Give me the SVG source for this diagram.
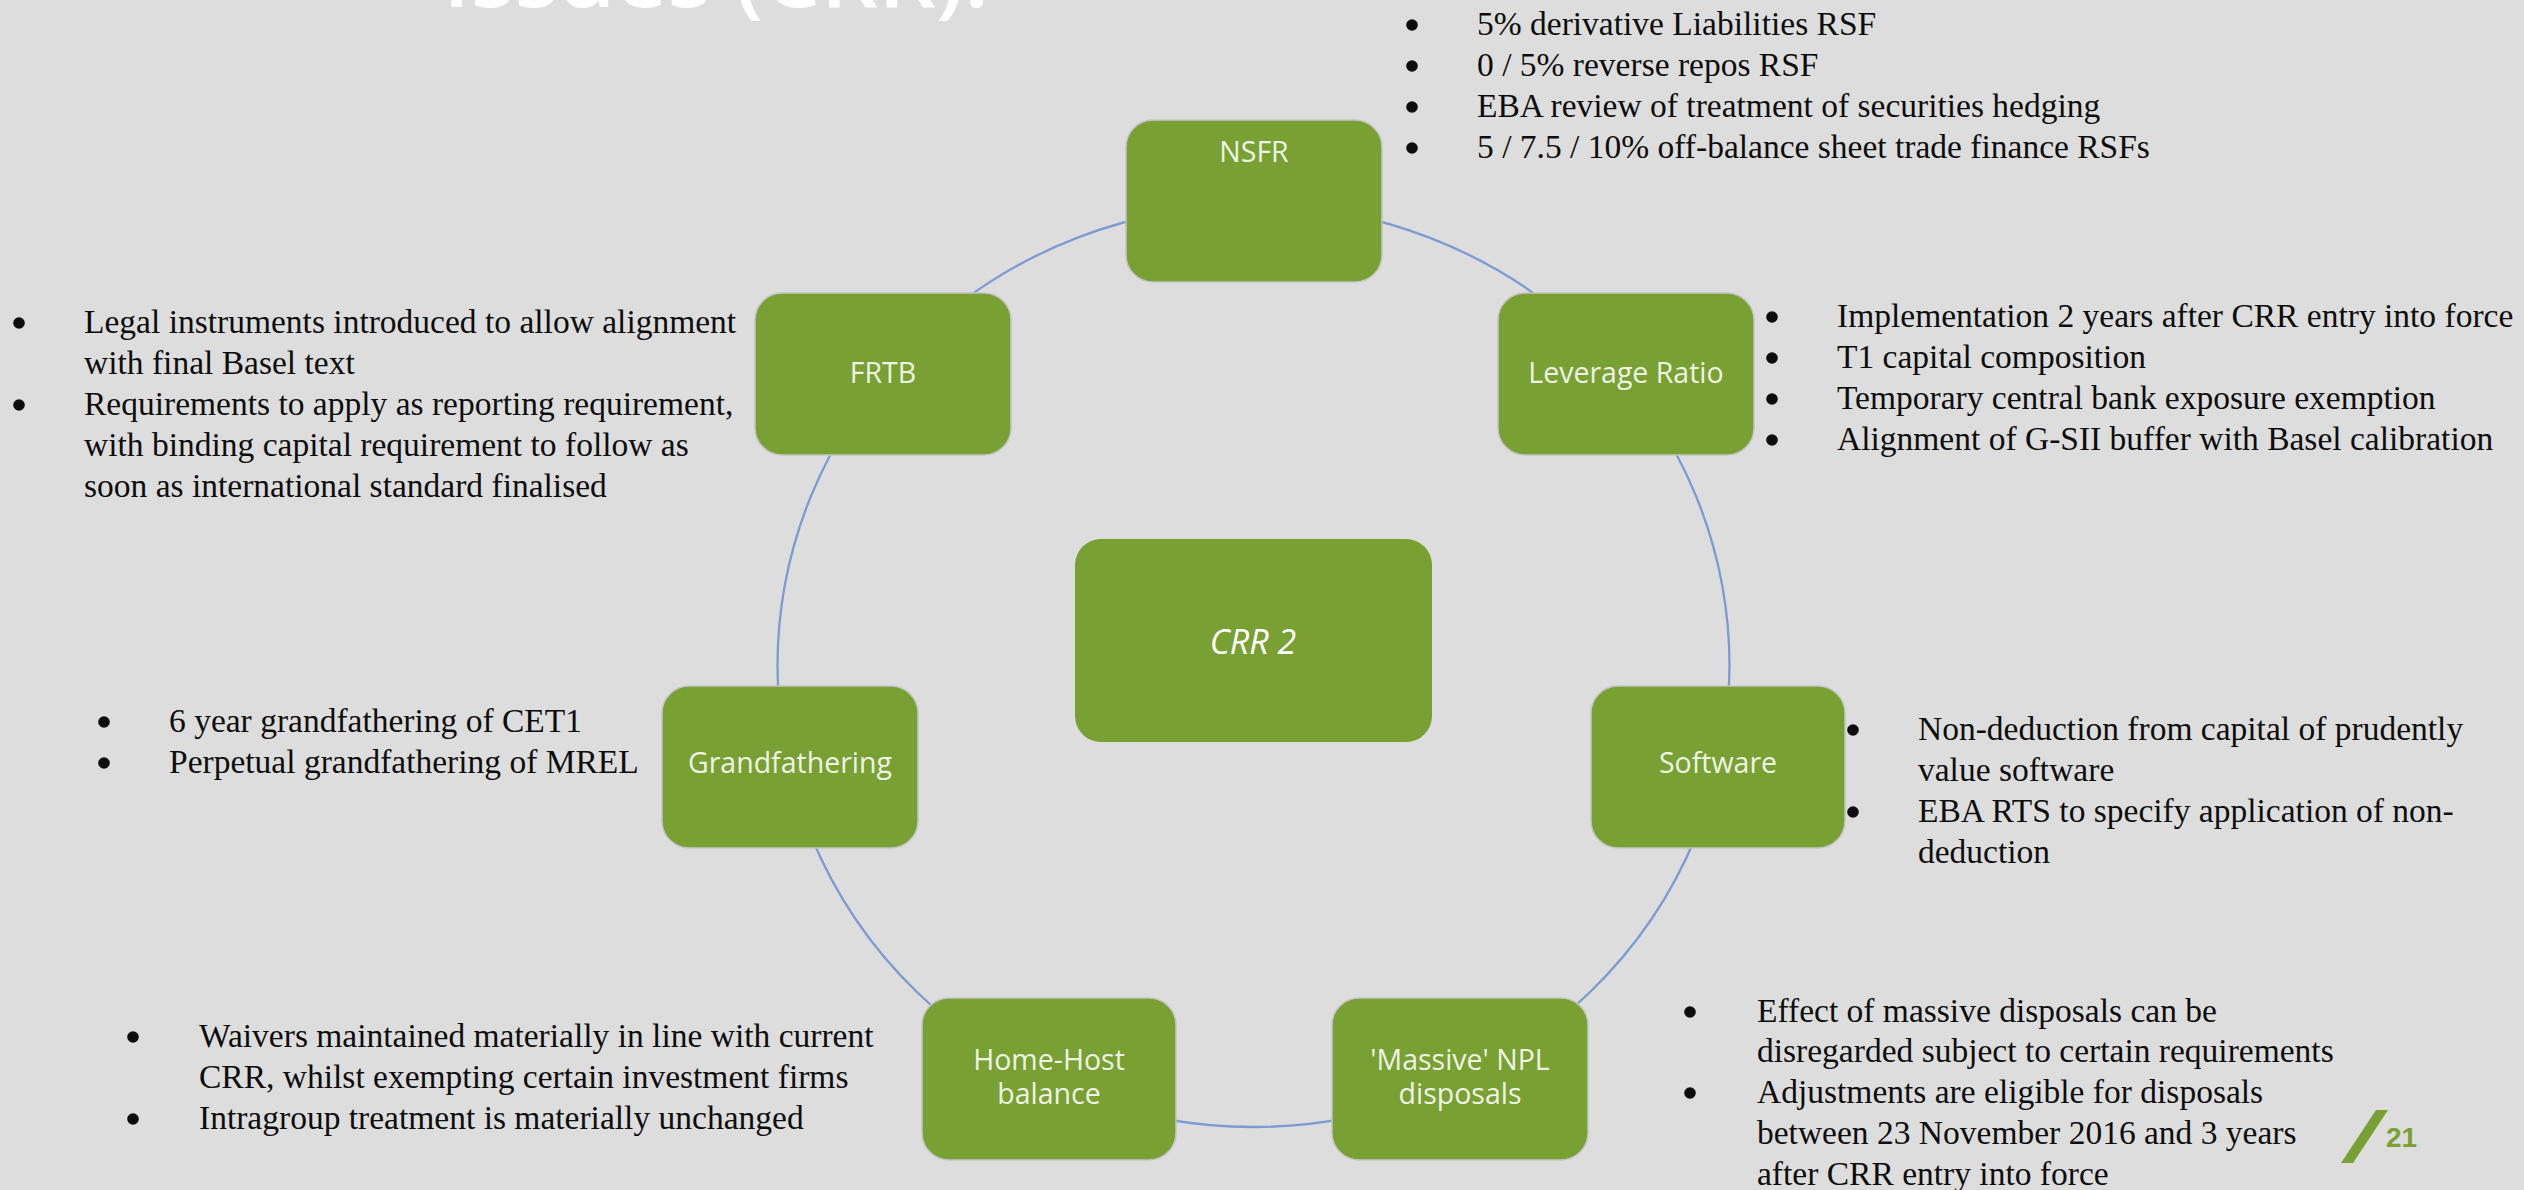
<svg xmlns="http://www.w3.org/2000/svg" width="2524" height="1190" viewBox="0 0 2524 1190">
<style>
.lbl{font-family:"Open Sans","DejaVu Sans",sans-serif;font-size:28.5px;fill:#eef3e5;text-anchor:middle}
.box{fill:#78a032;stroke:#c4c4c4;stroke-width:1.5}
.txt{font-family:"Liberation Serif","Times New Roman",serif;font-size:33.5px;fill:#0d0d0d}
.bul{fill:#0d0d0d}
.conn{fill:none;stroke:#7b9bd3;stroke-width:2.3}
</style>
<defs>
<circle id="dot" r="5.8" class="bul"/>
</defs>
<rect x="0" y="0" width="2524" height="1190" fill="#dddddd"/>
<text x="443" y="7" font-family="'Open Sans','DejaVu Sans',sans-serif" font-size="88" font-weight="600" fill="#ffffff" textLength="546" lengthAdjust="spacingAndGlyphs">Issues (CRR):</text>

<g id="connectors">
<ellipse class="conn" cx="1253.5" cy="666" rx="476" ry="461"/>
</g>

<g id="node-nsfr">
<rect class="box" x="1126" y="120" width="256" height="162" rx="27"/>
<text class="lbl" x="1254" y="162">NSFR</text>
</g>
<g id="node-leverage">
<rect class="box" x="1498" y="293" width="256" height="162" rx="27"/>
<text class="lbl" x="1626" y="383">Leverage Ratio</text>
</g>
<g id="node-software">
<rect class="box" x="1591" y="686" width="254" height="162" rx="27"/>
<text class="lbl" x="1718" y="773">Software</text>
</g>
<g id="node-npl">
<rect class="box" x="1332" y="998" width="256" height="162" rx="27"/>
<text class="lbl" x="1460" y="1070">'Massive' NPL</text>
<text class="lbl" x="1460" y="1104">disposals</text>
</g>
<g id="node-homehost">
<rect class="box" x="922" y="998" width="254" height="162" rx="27"/>
<text class="lbl" x="1049" y="1070">Home-Host</text>
<text class="lbl" x="1049" y="1104">balance</text>
</g>
<g id="node-grandfathering">
<rect class="box" x="662" y="686" width="256" height="162" rx="27"/>
<text class="lbl" x="790" y="773">Grandfathering</text>
</g>
<g id="node-frtb">
<rect class="box" x="755" y="293" width="256" height="162" rx="27"/>
<text class="lbl" x="883" y="383">FRTB</text>
</g>
<g id="node-crr2">
<rect x="1075" y="539" width="357" height="203" rx="26" fill="#78a032"/>
<text x="1253" y="654" font-family="'Open Sans','DejaVu Sans',sans-serif" font-size="34" font-style="italic" fill="#ffffff" text-anchor="middle">CRR 2</text>
</g>

<g id="notes-nsfr">
<use href="#dot" x="1412" y="25"/><text class="txt" x="1477" y="35">5% derivative Liabilities RSF</text>
<use href="#dot" x="1412" y="66"/><text class="txt" x="1477" y="76">0 / 5% reverse repos RSF</text>
<use href="#dot" x="1412" y="107"/><text class="txt" x="1477" y="117">EBA review of treatment of securities hedging</text>
<use href="#dot" x="1412" y="148"/><text class="txt" x="1477" y="158">5 / 7.5 / 10% off-balance sheet trade finance RSFs</text>
</g>
<g id="notes-leverage">
<use href="#dot" x="1772" y="317"/><text class="txt" x="1837" y="327">Implementation 2 years after CRR entry into force</text>
<use href="#dot" x="1772" y="358"/><text class="txt" x="1837" y="368">T1 capital composition</text>
<use href="#dot" x="1772" y="399"/><text class="txt" x="1837" y="409">Temporary central bank exposure exemption</text>
<use href="#dot" x="1772" y="440"/><text class="txt" x="1837" y="450">Alignment of G-SII buffer with Basel calibration</text>
</g>
<g id="notes-frtb">
<use href="#dot" x="19" y="323"/><text class="txt" x="84" y="333">Legal instruments introduced to allow alignment</text>
<text class="txt" x="84" y="374">with final Basel text</text>
<use href="#dot" x="19" y="405"/><text class="txt" x="84" y="415">Requirements to apply as reporting requirement,</text>
<text class="txt" x="84" y="456">with binding capital requirement to follow as</text>
<text class="txt" x="84" y="497">soon as international standard finalised</text>
</g>
<g id="notes-grandfathering">
<use href="#dot" x="104" y="722"/><text class="txt" x="169" y="732">6 year grandfathering of CET1</text>
<use href="#dot" x="104" y="763"/><text class="txt" x="169" y="773">Perpetual grandfathering of MREL</text>
</g>
<g id="notes-software">
<use href="#dot" x="1853" y="730"/><text class="txt" x="1918" y="740">Non-deduction from capital of prudently</text>
<text class="txt" x="1918" y="781">value software</text>
<use href="#dot" x="1853" y="812"/><text class="txt" x="1918" y="822">EBA RTS to specify application of non-</text>
<text class="txt" x="1918" y="863">deduction</text>
</g>
<g id="notes-homehost">
<use href="#dot" x="133" y="1037"/><text class="txt" x="199" y="1047">Waivers maintained materially in line with current</text>
<text class="txt" x="199" y="1088">CRR, whilst exempting certain investment firms</text>
<use href="#dot" x="133" y="1119"/><text class="txt" x="199" y="1129">Intragroup treatment is materially unchanged</text>
</g>
<g id="notes-npl">
<use href="#dot" x="1690" y="1012"/><text class="txt" x="1757" y="1022">Effect of massive disposals can be</text>
<text class="txt" x="1757" y="1062">disregarded subject to certain requirements</text>
<use href="#dot" x="1690" y="1093"/><text class="txt" x="1757" y="1103">Adjustments are eligible for disposals</text>
<text class="txt" x="1757" y="1144">between 23 November 2016 and 3 years</text>
<text class="txt" x="1757" y="1185">after CRR entry into force</text>
</g>

<g id="page-number">
<polygon points="2341,1163 2353,1163 2388,1110 2376,1110" fill="#78a032"/>
<text x="2386" y="1147" font-family="'Liberation Sans',Arial,sans-serif" font-size="28" font-weight="bold" fill="#78a032">21</text>
</g>
</svg>
